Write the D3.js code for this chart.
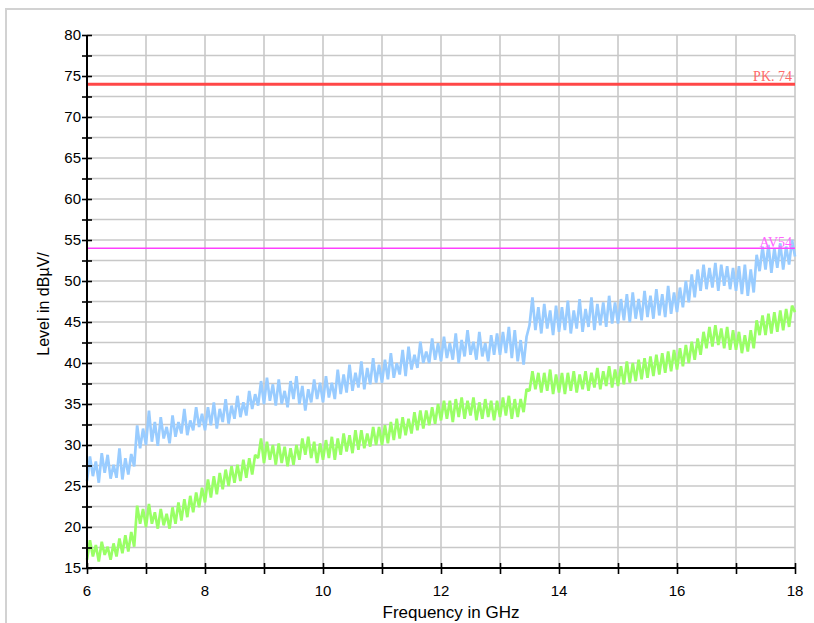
<!DOCTYPE html>
<html>
<head>
<meta charset="utf-8">
<script src="https://cdn.jsdelivr.net/npm/d3@7"></script>
<style>
    body { margin: 0; background: #ffffff; }
    .tick-label { font-family: "Liberation Sans", Arial, sans-serif; font-size: 15px; fill: #000000; }
    .axis-title { font-family: "Liberation Sans", Arial, sans-serif; font-size: 16px; fill: #000000; }
    .limit-label { font-family: "Liberation Serif", "DejaVu Serif", serif; font-size: 14px; }
</style>
</head>
<body>
<div id="chart"></div>
<script>
// Radiated emission scan 6 - 18 GHz, peak and average traces with limit lines

// The width and height of the SVG element
let width = 814;
let height = 623;

// Frequency sweep: first point and spacing (GHz)
let freqStart = 6;
let freqStep = 0.05;

// Axis ticks
let xMajorTicks = [6, 8, 10, 12, 14, 16, 18];
let xMinorTicks = [7, 9, 11, 13, 15, 17];
let xGrid = [6, 7, 8, 9, 10, 11, 12, 13, 14, 15, 16, 17, 18];
let yMajorTicks = [15, 20, 25, 30, 35, 40, 45, 50, 55, 60, 65, 70, 75, 80];
let yMinorTicks = [17.5, 22.5, 27.5, 32.5, 37.5, 42.5, 47.5, 52.5, 57.5, 62.5, 67.5, 72.5, 77.5];

// Limit lines
let limitNames = ["PK. 74", "AV54"];
let limitValues = [74, 54];

// Peak trace (dBµV), one row per GHz
let peakTrace = [
    25.6, 28.6, 26.2, 28.0, 25.4, 29.0, 26.6, 28.8, 25.9, 27.6, 26.0, 29.6, 25.8, 28.4, 26.4, 28.9, 27.4, 32.4, 29.6, 32.0,
    30.0, 34.2, 30.4, 32.8, 29.9, 33.4, 30.8, 32.2, 30.2, 33.6, 31.0, 32.8, 31.4, 34.4, 31.2, 33.0, 31.8, 34.6, 32.2, 33.8,
    31.8, 34.6, 32.4, 35.2, 32.0, 34.4, 32.8, 35.6, 32.6, 34.8, 33.2, 36.0, 33.4, 35.2, 33.6, 36.6, 34.4, 36.2, 34.8, 37.8,
    35.0, 38.2, 35.4, 37.4, 34.8, 38.0, 35.0, 36.6, 34.6, 37.8, 35.6, 38.4, 35.0, 37.2, 34.2, 36.8, 35.2, 38.0, 35.6, 37.6,
    35.2, 38.4, 35.8, 37.6, 35.6, 39.2, 36.2, 38.6, 36.4, 39.8, 36.6, 38.8, 37.0, 40.2, 36.8, 39.4, 37.4, 40.6, 37.6, 39.8,
    37.6, 40.4, 38.0, 41.2, 38.2, 40.0, 38.6, 41.6, 38.4, 42.0, 39.2, 41.0, 39.4, 42.6, 40.0, 41.4, 40.0, 43.0, 40.4, 42.4,
    40.2, 43.2, 40.6, 42.4, 40.4, 43.6, 40.0, 42.8, 40.8, 44.0, 41.0, 42.6, 40.4, 43.8, 40.8, 42.4, 40.2, 43.4, 41.0, 43.6,
    41.0, 43.8, 41.2, 44.4, 40.6, 44.0, 40.2, 42.8, 39.8, 43.2, 44.6, 48.0, 44.0, 46.8, 43.6, 47.2, 44.2, 46.4, 43.4, 47.0,
    43.8, 46.8, 44.0, 47.6, 43.6, 46.4, 44.2, 47.8, 43.8, 46.6, 44.4, 48.0, 44.0, 47.2, 44.6, 47.4, 44.4, 48.2, 44.8, 47.4,
    44.8, 47.8, 45.2, 48.4, 45.0, 48.6, 45.4, 47.8, 45.2, 48.8, 45.6, 48.2, 45.4, 49.0, 45.8, 48.4, 45.6, 49.4, 46.0, 48.6,
    46.2, 49.2, 46.8, 50.0, 47.4, 50.8, 48.0, 51.4, 48.8, 52.0, 49.0, 51.6, 49.2, 52.2, 48.8, 52.0, 49.4, 51.8, 49.0, 51.6,
    48.8, 51.8, 48.4, 52.0, 48.2, 51.4, 48.6, 53.2, 51.2, 54.2, 51.4, 54.4, 51.0, 54.0, 51.6, 54.6, 51.4, 54.2, 52.0, 55.0,
    53.0
];

// Average trace (dBµV)
let avgTrace = [
    16.0, 18.4, 16.4, 17.8, 15.8, 18.2, 16.6, 17.6, 16.0, 18.0, 16.4, 18.6, 16.8, 19.0, 17.0, 19.4, 17.6, 22.6, 20.4, 22.2,
    20.0, 22.8, 20.4, 21.8, 19.8, 22.2, 20.2, 21.6, 19.8, 22.4, 20.4, 23.0, 20.8, 23.4, 21.2, 23.8, 21.8, 24.2, 22.4, 24.8,
    23.0, 25.8, 23.6, 26.2, 24.0, 26.6, 24.6, 27.0, 25.0, 27.4, 25.4, 27.6, 25.6, 28.2, 26.0, 28.4, 26.4, 28.8, 28.4, 30.8,
    27.8, 30.4, 28.2, 30.0, 27.6, 30.2, 27.8, 29.8, 27.4, 29.6, 27.6, 30.0, 28.2, 30.8, 28.8, 31.0, 28.4, 30.4, 27.8, 30.2,
    28.2, 30.6, 28.4, 31.0, 28.2, 30.8, 28.8, 31.4, 29.2, 31.2, 29.0, 31.8, 29.4, 31.8, 29.6, 31.4, 29.8, 32.2, 30.0, 32.2,
    30.0, 32.4, 30.2, 32.8, 30.6, 33.2, 30.8, 33.4, 31.2, 33.2, 31.4, 34.0, 31.8, 34.2, 32.0, 34.2, 32.4, 34.6, 32.6, 35.0,
    33.0, 35.4, 33.2, 35.4, 32.8, 35.6, 33.4, 35.8, 33.2, 35.4, 33.6, 35.8, 33.0, 35.2, 33.2, 35.6, 33.4, 35.4, 33.0, 35.4,
    33.4, 35.8, 33.6, 36.0, 33.2, 35.6, 33.4, 35.6, 34.0, 36.8, 36.6, 39.0, 36.8, 38.8, 36.4, 38.8, 36.6, 39.2, 36.2, 38.6,
    36.4, 38.8, 36.2, 38.8, 36.6, 39.0, 36.4, 38.6, 36.8, 39.0, 36.6, 38.8, 37.0, 39.4, 36.8, 39.0, 37.2, 39.6, 37.0, 39.2,
    37.2, 39.6, 37.4, 40.2, 37.6, 40.0, 37.8, 40.4, 38.0, 40.6, 38.2, 40.8, 38.4, 41.0, 38.6, 41.2, 38.8, 41.4, 39.0, 41.6,
    39.2, 41.8, 39.6, 42.2, 40.0, 42.6, 40.4, 43.0, 41.0, 43.8, 41.8, 44.4, 42.0, 44.6, 42.2, 44.2, 41.8, 44.4, 41.6, 44.0,
    41.6, 43.8, 41.2, 43.4, 41.4, 44.0, 41.8, 45.2, 43.4, 45.8, 43.4, 46.0, 43.6, 46.2, 43.8, 46.4, 44.0, 46.6, 44.4, 47.0,
    46.2
];

// Plot area edges
let plotLeft = 87;
let plotRight = 795;
let plotTop = 35;
let plotBottom = 568;

// Scales
let xScale = d3.scaleLinear().domain([6, 18]).range([plotLeft, plotRight]);
let yScale = d3.scaleLinear().domain([15, 80]).range([plotBottom, plotTop]);

let svg = d3.select("#chart")
    .append("svg")
    .attr("width", width)
    .attr("height", height);

// Outer frame
svg.append("rect")
    .attr("x", 6)
    .attr("y", 9)
    .attr("width", 840)
    .attr("height", 700)
    .attr("fill", "none")
    .attr("stroke", "#d2d2d2")
    .attr("stroke-width", 2);

// Grid
svg.append("g")
    .selectAll("line")
    .data(xGrid)
    .enter()
    .append("line")
    .attr("x1", function (d) { return xScale(d); })
    .attr("x2", function (d) { return xScale(d); })
    .attr("y1", plotTop)
    .attr("y2", plotBottom)
    .attr("stroke", "#c8c8c8")
    .attr("stroke-width", 1.6);

svg.append("g")
    .selectAll("line")
    .data(yMajorTicks.concat(yMinorTicks))
    .enter()
    .append("line")
    .attr("x1", plotLeft)
    .attr("x2", plotRight)
    .attr("y1", function (d) { return yScale(d); })
    .attr("y2", function (d) { return yScale(d); })
    .attr("stroke", "#c8c8c8")
    .attr("stroke-width", 1.6);

// Traces
let traceLine = d3.line()
    .x(function (d, i) { return xScale(freqStart + i * freqStep); })
    .y(function (d) { return yScale(d); });

svg.append("path")
    .datum(peakTrace)
    .attr("d", traceLine)
    .attr("fill", "none")
    .attr("stroke", "#99ccff")
    .attr("stroke-width", 2.7)
    .attr("stroke-linejoin", "bevel");

svg.append("path")
    .datum(avgTrace)
    .attr("d", traceLine)
    .attr("fill", "none")
    .attr("stroke", "#99ff66")
    .attr("stroke-width", 2.7)
    .attr("stroke-linejoin", "bevel");

// Limit lines and their labels
let limitColors = ["#ff4747", "#ff40ff"];
let limitTextColors = ["#ff6a6a", "#ff66ff"];
let limitWidths = [3, 1.5];

limitValues.forEach(function (v, i) {
    svg.append("line")
        .attr("x1", plotLeft)
        .attr("x2", plotRight)
        .attr("y1", yScale(v))
        .attr("y2", yScale(v))
        .attr("stroke", limitColors[i])
        .attr("stroke-width", limitWidths[i]);

    svg.append("text")
        .attr("class", "limit-label")
        .attr("x", plotRight - 3)
        .attr("y", yScale(v) - (i === 0 ? 3 : 1))
        .attr("text-anchor", "end")
        .attr("fill", limitTextColors[i])
        .text(limitNames[i]);
});

// Axes: ticks cross the axis line
let yAxis = d3.axisLeft(yScale)
    .tickValues(yMajorTicks.concat(yMinorTicks))
    .tickSize(5)
    .tickFormat("");

let gy = svg.append("g")
    .attr("transform", "translate(" + plotLeft + ", 0)")
    .call(yAxis);

let xAxis = d3.axisBottom(xScale)
    .tickValues(xMajorTicks.concat(xMinorTicks))
    .tickSize(6)
    .tickFormat("");

let gx = svg.append("g")
    .attr("transform", "translate(0, " + plotBottom + ")")
    .call(xAxis);

gy.selectAll(".tick line").attr("x1", 5).attr("stroke-width", 1.6);
gx.selectAll(".tick line").attr("y1", -5).attr("stroke-width", 1.6);
gy.select(".domain").attr("stroke-width", 2).attr("d", "M0," + plotTop + "V" + plotBottom);
gx.select(".domain").attr("stroke-width", 2).attr("d", "M" + plotLeft + ",0H" + plotRight);

// Tick labels
svg.append("g")
    .selectAll("text")
    .data(yMajorTicks)
    .enter()
    .append("text")
    .attr("class", "tick-label")
    .attr("x", plotLeft - 6)
    .attr("y", function (d) { return yScale(d) + 5; })
    .attr("text-anchor", "end")
    .text(function (d) { return d; });

svg.append("g")
    .selectAll("text")
    .data(xMajorTicks)
    .enter()
    .append("text")
    .attr("class", "tick-label")
    .attr("x", function (d) { return xScale(d); })
    .attr("y", plotBottom + 28)
    .attr("text-anchor", "middle")
    .text(function (d) { return d; });

// Axis titles
svg.append("text")
    .attr("class", "axis-title")
    .attr("transform", "translate(49, 304) rotate(-90)")
    .attr("text-anchor", "middle")
    .text("Level in dBµV/");

svg.append("text")
    .attr("class", "axis-title")
    .attr("x", 451)
    .attr("y", 618)
    .attr("text-anchor", "middle")
    .style("font-size", "17px")
    .text("Frequency in GHz");
</script>
</body>
</html>
